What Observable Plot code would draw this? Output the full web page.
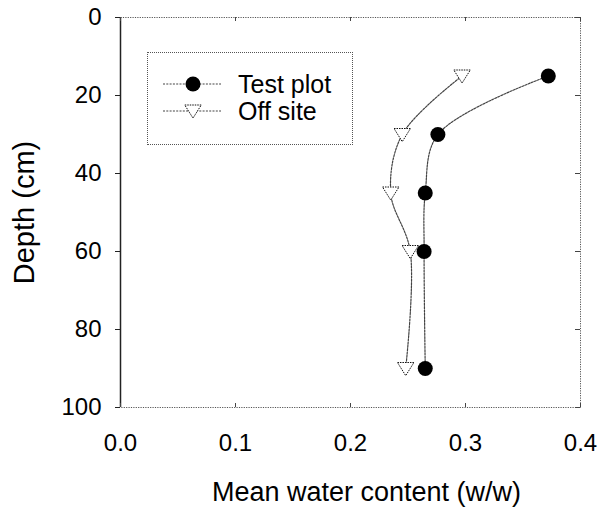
<!DOCTYPE html>
<html><head><meta charset="utf-8">
<script src="https://cdn.jsdelivr.net/npm/d3@7"></script>
<script src="https://cdn.jsdelivr.net/npm/@observablehq/plot@0.6"></script>
<style>
body{margin:0;background:#fff;font-family:"Liberation Sans",Arial,sans-serif;}
#wrap{position:relative;width:606px;height:511px;}
#legend{position:absolute;left:147px;top:52px;width:206px;height:93px;border:1px dotted #555;box-sizing:border-box;}
#legend svg{position:absolute;left:-1px;top:-1px;}
</style></head><body><div id="wrap"></div>
<script>
const depths = [15, 30, 45, 60, 90];
const testPlot = [0.372, 0.276, 0.265, 0.264, 0.265];
const offSite = [0.297, 0.245, 0.235, 0.252, 0.248];
const xTicks = [0, 0.1, 0.2, 0.3, 0.4];
const yTicks = [0, 20, 40, 60, 80, 100];
const seriesNames = ["Test plot", "Off site"];
const xLabel = "Mean water content (w/w)";
const yLabel = "Depth (cm)";

const testData = depths.map((d, i) => ({depth: d, w: testPlot[i]}));
const offData = depths.map((d, i) => ({depth: d, w: offSite[i]}));

const triDown = {
  draw(ctx, size) {
    const r = Math.sqrt(size / Math.PI);
    ctx.moveTo(-r * 1.1, -r * 0.8);
    ctx.lineTo(r * 1.1, -r * 0.8);
    ctx.lineTo(0, r * 0.95);
    ctx.closePath();
  }
};

const chart = Plot.plot({
  width: 606, height: 511,
  marginLeft: 120, marginRight: 26, marginTop: 17, marginBottom: 104,
  style: {fontFamily: "'Liberation Sans', Arial, sans-serif", fontSize: "24px", color: "#000", background: "#fff", overflow: "visible"},
  x: {domain: [0, 0.4]},
  y: {domain: [0, 100], reverse: true},
  marks: [
    Plot.frame({stroke: "#555", strokeDasharray: "1.2,1.2", strokeWidth: 1}),
    Plot.ruleX([0], {stroke: "#222", strokeWidth: 1.5}),
    Plot.axisY(yTicks, {anchor: "left", tickSize: 5, tickPadding: 14, fontSize: 24, label: null, stroke: "#222"}),
    Plot.axisX(xTicks, {anchor: "bottom", tickSize: 0, tickPadding: 26, fontSize: 24, tickFormat: d3.format(".1f"), label: null}),
    Plot.tickX(xTicks, {x: d => d, insetTop: 386, stroke: "#444"}),
    Plot.tickX(xTicks, {x: d => d, insetBottom: 386, stroke: "#444"}),
    Plot.tickY(yTicks, {y: d => d, insetLeft: 455, stroke: "#444"}),
    Plot.text([yLabel], {text: d => d, frameAnchor: "left", dx: -87, dy: 0, rotate: -90, fontSize: 29, lineAnchor: "bottom", textAnchor: "middle", fill: "#000"}),
    Plot.text([xLabel], {text: d => d, frameAnchor: "bottom", dx: 16, dy: 93, fontSize: 27, lineAnchor: "bottom", textAnchor: "middle", fill: "#000"}),
    Plot.line(offData, {x: "w", y: "depth", curve: "catmull-rom", stroke: "#444", strokeWidth: 1.2, strokeDasharray: "2,1.3"}),
    Plot.line(testData, {x: "w", y: "depth", curve: "catmull-rom", stroke: "#444", strokeWidth: 1.2, strokeDasharray: "2,1.3"}),
    Plot.dot(offData, {x: "w", y: "depth", symbol: triDown, r: 7.5, fill: "#fff", stroke: "#111", strokeWidth: 1, strokeDasharray: "1.5,1"}),
    Plot.dot(testData, {x: "w", y: "depth", symbol: "circle", r: 7.5, fill: "#000", stroke: "none"})
  ]
});

const wrap = document.getElementById("wrap");
wrap.appendChild(chart);

// legend overlay
const leg = document.createElement("div");
leg.id = "legend";
wrap.appendChild(leg);
const lsvg = d3.select(leg).append("svg").attr("width", 206).attr("height", 93)
  .style("font-family", "'Liberation Sans', Arial, sans-serif");
const rows = [{name: seriesNames[0], cy: 32, sym: "circle"}, {name: seriesNames[1], cy: 59, sym: "tri"}];
rows.forEach(r => {
  lsvg.append("line").attr("x1", 16).attr("x2", 74).attr("y1", r.cy).attr("y2", r.cy)
    .attr("stroke", "#444").attr("stroke-width", 1.2).attr("stroke-dasharray", "2,1.3");
  if (r.sym === "circle") {
    lsvg.append("circle").attr("cx", 46).attr("cy", r.cy).attr("r", 7.5).attr("fill", "#000");
  } else {
    const p = d3.path();
    triDown.draw(p, Math.PI * 7.5 * 7.5);
    lsvg.append("path").attr("d", p.toString()).attr("transform", `translate(46,${r.cy})`)
      .attr("fill", "#fff").attr("stroke", "#111").attr("stroke-dasharray", "1.5,1");
  }
  lsvg.append("text").attr("x", 91).attr("y", r.cy + 9).attr("font-size", 25).attr("fill", "#000").text(r.name);
});
</script>
</body></html>
